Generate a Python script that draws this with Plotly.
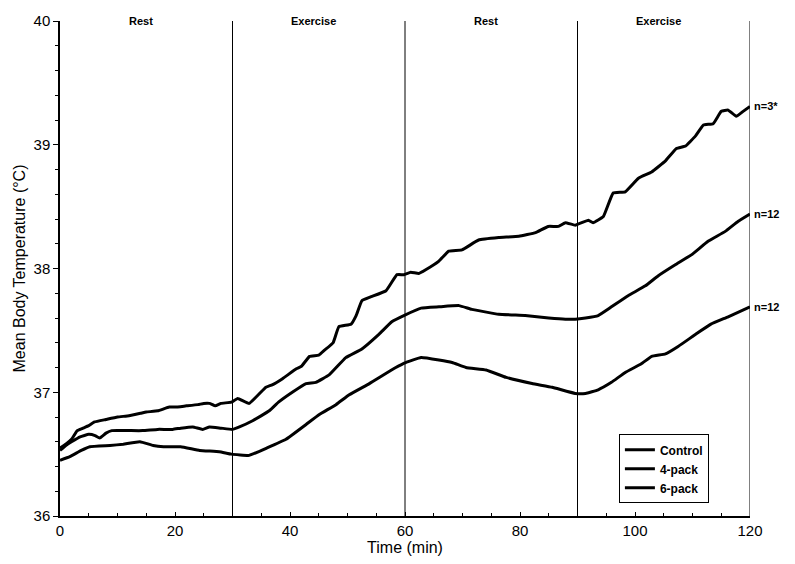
import plotly.graph_objects as go

# ---- data ----
control_t = [0, 1, 2, 3, 4, 5, 6, 8, 10, 12, 14, 15, 17, 19, 20, 22, 24, 25, 26, 27, 28, 29.8, 30.9, 32.9,
             35.8, 36.9, 38.7, 41.1, 42, 43.4, 45, 46, 47.5, 48.5, 50.6, 51.5, 52.5, 54, 56.7, 58.6, 59.8,
             61, 62.4, 63.6, 65.9, 67.6, 69.9, 72.8, 76.3, 79.8, 82.7, 84.9, 86.7, 87.9, 89.6, 91.9, 92.7,
             94.5, 96.2, 98.3, 100.6, 102.9, 105.3, 107.2, 108.8, 110.5, 111.9, 113.6, 115, 116.2, 117.6,
             118.8, 120]
control_v = [36.55, 36.58, 36.62, 36.69, 36.71, 36.73, 36.76, 36.78, 36.80, 36.81, 36.83, 36.84, 36.85,
             36.88, 36.88, 36.89, 36.90, 36.91, 36.91, 36.89, 36.91, 36.92, 36.95, 36.91,
             37.04, 37.06, 37.11, 37.19, 37.21, 37.29, 37.30, 37.34, 37.40, 37.53, 37.55, 37.62, 37.74,
             37.77, 37.82, 37.95, 37.95, 37.97, 37.96, 37.99, 38.06, 38.14, 38.15, 38.23, 38.25, 38.26,
             38.29, 38.34, 38.34, 38.37, 38.35, 38.39, 38.37, 38.42, 38.61, 38.62, 38.73, 38.78, 38.87,
             38.97, 38.99, 39.07, 39.16, 39.17, 39.27, 39.28, 39.23, 39.27, 39.31]

pack4_t = [0, 1, 2, 3.5, 5, 6.1, 6.9, 8, 9, 12, 14.4, 17, 19.6, 21, 23.1, 24.8, 26, 28, 30, 31.2, 33.5,
           36.4, 38, 40.4, 42.8, 44.5, 46.8, 49.7, 52.5, 55.5, 57.7, 59.8, 62.8, 65.9, 69.4, 71.6, 76.3,
           80.9, 85, 87.9, 89.6, 91.4, 93.6, 95.9, 98.8, 101.8, 104, 107, 109.8, 112.7, 115.7, 117.9, 120]
pack4_v = [36.53, 36.57, 36.60, 36.64, 36.66, 36.65, 36.63, 36.67, 36.69, 36.69, 36.69, 36.70, 36.70,
           36.71, 36.72, 36.70, 36.72, 36.71, 36.70, 36.72, 36.77, 36.85, 36.92, 37.00, 37.07, 37.08,
           37.14, 37.28, 37.35, 37.47, 37.57, 37.62, 37.68, 37.69, 37.70, 37.67, 37.63, 37.62, 37.60,
           37.59, 37.59, 37.60, 37.62, 37.69, 37.78, 37.86, 37.94, 38.03, 38.11, 38.22, 38.30, 38.38,
           38.44]

pack6_t = [0, 1.7, 3.7, 5.2, 8.7, 11, 13.9, 16.2, 18, 21, 24.3, 27.7, 29.8, 32.9, 36, 39.3, 42.8, 45.1,
           48, 50.3, 53.8, 58.4, 60.1, 62.8, 65.9, 68.2, 70.6, 74.1, 77.6, 82.1, 85.6, 89.6, 91.4, 93.6,
           95.9, 98.3, 101.1, 102.9, 105.3, 107.5, 110.6, 113.2, 116.2, 120]
pack6_v = [36.45, 36.48, 36.53, 36.56, 36.57, 36.58, 36.60, 36.57, 36.56, 36.56, 36.53, 36.52, 36.50,
           36.49, 36.55, 36.62, 36.74, 36.82, 36.90, 36.98, 37.07, 37.20, 37.24, 37.28, 37.26, 37.24,
           37.20, 37.18, 37.12, 37.07, 37.04, 36.99, 36.99, 37.02, 37.08, 37.16, 37.23, 37.29, 37.31,
           37.37, 37.47, 37.55, 37.61, 37.69]

series_names = ["Control", "4-pack", "6-pack"]
end_labels = ["n=3*", "n=12", "n=12"]
phase_edges = [0, 30, 60, 90, 120]
phase_names = ["Rest", "Exercise", "Rest", "Exercise"]

FONT = "Liberation Sans, Arial, sans-serif"

fig = go.Figure()
for name, t, v in zip(series_names, [control_t, pack4_t, pack6_t], [control_v, pack4_v, pack6_v]):
    fig.add_trace(go.Scatter(x=t, y=v, mode="lines", name="<b>" + name + "</b>",
                             line=dict(color="black", width=3, shape="spline", smoothing=0.3)))

# phase boundary lines
for e in phase_edges[1:]:
    fig.add_shape(type="line", xref="x", yref="y", x0=e, x1=e, y0=36, y1=40,
                  line=dict(color="black", width=1))

# phase labels
for i, nm in enumerate(phase_names):
    fig.add_annotation(x=(phase_edges[i] + phase_edges[i + 1]) / 2 - 1, y=40, xref="x", yref="y",
                       text="<b>" + nm + "</b>", showarrow=False, yanchor="middle",
                       font=dict(family=FONT, size=11, color="black"))

# end labels
for lab, v in zip(end_labels, [control_v, pack4_v, pack6_v]):
    fig.add_annotation(x=120, y=v[-1], xref="x", yref="y", text="<b>" + lab + "</b>",
                       showarrow=False, xanchor="left", xshift=2,
                       font=dict(family=FONT, size=11, color="black"))

fig.update_layout(
    width=795, height=564,
    margin=dict(l=60, r=45, t=17, b=39),
    paper_bgcolor="white", plot_bgcolor="white",
    font=dict(family=FONT, color="black"),
    showlegend=True,
    legend=dict(x=0.81, y=0.165, xanchor="left", yanchor="top",
                bordercolor="black", borderwidth=1, bgcolor="white",
                font=dict(family=FONT, size=12, color="black"),
                itemwidth=30, tracegroupgap=0),
    xaxis=dict(range=[0, 120], tickvals=[0, 20, 40, 60, 80, 100, 120],
               ticks="inside", ticklen=4, tickcolor="black",
               minor=dict(dtick=5, ticks="inside", ticklen=3, tickcolor="black"),
               showline=True, linecolor="black", linewidth=1.5, showgrid=False, zeroline=False,
               tickfont=dict(size=15, family=FONT),
               title=dict(text="Time (min)", font=dict(size=16, family=FONT), standoff=2)),
    yaxis=dict(range=[36, 40], tickvals=[36, 37, 38, 39, 40],
               ticks="outside", ticklen=5, tickcolor="black",
               minor=dict(dtick=0.2, ticks="outside", ticklen=3, tickcolor="black"),
               showline=True, linecolor="black", linewidth=1.5, showgrid=False, zeroline=False,
               tickfont=dict(size=15, family=FONT),
               title=dict(text="Mean Body Temperature (°C)", font=dict(size=16, family=FONT), standoff=4)),
)

fig.write_html("out.html")
